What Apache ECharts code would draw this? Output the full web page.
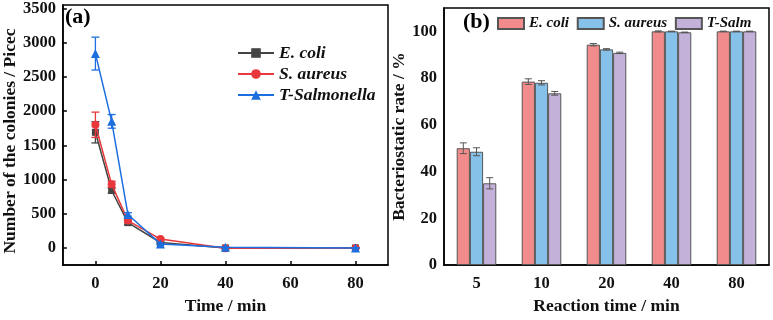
<!DOCTYPE html>
<html><head><meta charset="utf-8">
<script src="https://cdn.jsdelivr.net/npm/echarts@6/dist/echarts.min.js"></script>
<style>html,body{margin:0;padding:0;background:#fff}#c{width:773px;height:320px}</style>
</head><body><div id="c"></div>
<script>
// ---- Panel (a) data ----
const timesA = [0, 5, 10, 20, 40, 80];
const ecoliCount = [1690, 840, 370, 80, 0, 0];
const ecoliCountErr = [155, 40, 30, 15, 5, 3];
const saureusCount = [1800, 930, 400, 130, -5, 0];
const saureusCountErr = [185, 45, 30, 20, 5, 3];
const tsalmCount = [2840, 1850, 490, 60, 10, 0];
const tsalmCountErr = [240, 100, 25, 15, 5, 3];
const yTicksA = [0, 500, 1000, 1500, 2000, 2500, 3000, 3500];
const xTicksA = [0, 20, 40, 60, 80];

// ---- Panel (b) data ----
const categoriesB = ['5', '10', '20', '40', '80'];
const ecoliRate = [50, 78.5, 94.3, 100, 100];
const ecoliRateErr = [2.3, 1.2, 0.5, 0.2, 0.1];
const saureusRate = [48.5, 78, 92.3, 100, 100];
const saureusRateErr = [1.7, 0.9, 0.3, 0.1, 0.1];
const tsalmRate = [35, 73.5, 90.8, 99.6, 100];
const tsalmRateErr = [2.4, 0.8, 0.3, 0.1, 0.1];
const yTicksB = [0, 20, 40, 60, 80, 100];

const FF = 'Liberation Serif, Times New Roman, serif';
const lineColors = ['#444444', '#e8383b', '#1d6fe0'];
const barColors = ['#f28b8b', '#86c1ea', '#c3b1d9'];

function pts(xs, ys) { return xs.map((x, i) => [x, ys[i]]); }
function errPts(xs, ys, es) { return xs.map((x, i) => [x, ys[i], es[i]]); }

function lineErr(color) {
  return function (params, api) {
    const x = api.value(0), y = api.value(1), e = api.value(2);
    const t = api.coord([x, y + e]), b = api.coord([x, y - e]);
    const w = 4;
    const st = { stroke: color, lineWidth: 1.3 };
    return { type: 'group', children: [
      { type: 'line', shape: { x1: t[0], y1: t[1], x2: b[0], y2: b[1] }, style: st },
      { type: 'line', shape: { x1: t[0] - w, y1: t[1], x2: t[0] + w, y2: t[1] }, style: st },
      { type: 'line', shape: { x1: b[0] - w, y1: b[1], x2: b[0] + w, y2: b[1] }, style: st }
    ]};
  };
}
const BARFRAC = 0.203;
function barErr(idx) {
  return function (params, api) {
    const c = api.value(0), y = api.value(1), e = api.value(2);
    const band = api.size([1, 0])[0];
    const off = (idx - 1) * band * BARFRAC;
    const t = api.coord([c, y + e]), b = api.coord([c, y - e]);
    const x = t[0] + off;
    const w = 3.5;
    const st = { stroke: '#555', lineWidth: 1 };
    return { type: 'group', children: [
      { type: 'line', shape: { x1: x, y1: t[1], x2: x, y2: b[1] }, style: st },
      { type: 'line', shape: { x1: x - w, y1: t[1], x2: x + w, y2: t[1] }, style: st },
      { type: 'line', shape: { x1: x - w, y1: b[1], x2: x + w, y2: b[1] }, style: st }
    ]};
  };
}

const plain = v => String(v);
const labelStyle = { fontFamily: FF, fontWeight: 'bold', fontSize: 16.5, color: '#111' };
const nameStyle = { fontFamily: FF, fontWeight: 'bold', fontSize: 17.5, color: '#111' };
const axLine = { show: true, onZero: false, lineStyle: { color: '#000', width: 1.5 } };

const chart = echarts.init(document.getElementById('c'), null, { renderer: 'canvas' });
chart.setOption({
  animation: false,
  backgroundColor: '#fff',
  graphic: [
    { type: 'text', left: 65, top: 6, style: { text: '(a)', font: 'bold 22px ' + FF, fill: '#000' } },
    { type: 'text', left: 463, top: 11, style: { text: '(b)', font: 'bold 22px ' + FF, fill: '#000' } }
  ],
  grid: [
    { left: 60, right: 385, top: 5, bottom: 49, show: true, borderColor: '#000', borderWidth: 1.5 },
    { left: 444, right: 4, top: 8, bottom: 49, show: true, borderColor: '#000', borderWidth: 1.5 }
  ],
  legend: [
    { data: ['E. coli', 'S. aureus', 'T-Salmonella'], orient: 'vertical', left: 237, top: 44, padding: 0,
      itemWidth: 36, itemHeight: 12, itemGap: 3,
      textStyle: { fontFamily: FF, fontWeight: 'bold', fontStyle: 'italic', fontSize: 17.5, lineHeight: 17, color: '#111' } },
    { data: ['E. coli ', 'S. aureus ', 'T-Salm'], orient: 'horizontal', left: 497, top: 16, padding: 0,
      icon: 'rect', itemWidth: 26, itemHeight: 11, itemGap: 4,
      textStyle: { fontFamily: FF, fontWeight: 'bold', fontStyle: 'italic', fontSize: 15, color: '#111' } }
  ],
  xAxis: [
    { type: 'value', gridIndex: 0, min: -10, max: 90,
      axisLine: axLine, splitLine: { show: false },
      axisTick: { inside: true, length: 4, customValues: xTicksA, lineStyle: { color: '#000', width: 1.5 } },
      axisLabel: Object.assign({ customValues: xTicksA, margin: 10, formatter: plain }, labelStyle),
      name: 'Time / min', nameLocation: 'middle', nameGap: 28, nameTextStyle: nameStyle },
    { type: 'category', gridIndex: 1, data: categoriesB,
      axisLine: axLine, splitLine: { show: false },
      axisTick: { inside: true, length: 4, alignWithLabel: true, lineStyle: { color: '#000', width: 1.5 } },
      axisLabel: Object.assign({ margin: 10 }, labelStyle),
      name: 'Reaction time / min', nameLocation: 'middle', nameGap: 28, nameTextStyle: nameStyle }
  ],
  yAxis: [
    { type: 'value', gridIndex: 0, min: -250, max: 3550,
      axisLine: axLine, splitLine: { show: false },
      axisTick: { inside: true, length: 4, customValues: yTicksA, lineStyle: { color: '#000', width: 1.5 } },
      axisLabel: Object.assign({ customValues: yTicksA, margin: 7, formatter: plain }, labelStyle),
      name: 'Number of the colonies / Picec', nameLocation: 'middle', nameGap: 38,
      nameTextStyle: Object.assign({ padding: [0, 0, 0, -12] }, nameStyle) },
    { type: 'value', gridIndex: 1, min: 0, max: 110,
      axisLine: axLine, splitLine: { show: false },
      axisTick: { inside: false, length: 5, customValues: yTicksB, lineStyle: { color: '#000', width: 1.5 } },
      axisLabel: Object.assign({ customValues: yTicksB, margin: 7, formatter: plain }, labelStyle),
      name: 'Bacteriostatic rate / %', nameLocation: 'middle', nameGap: 33, nameTextStyle: nameStyle }
  ],
  series: [
    { name: 'E. coli', type: 'line', xAxisIndex: 0, yAxisIndex: 0, data: pts(timesA, ecoliCount),
      symbol: 'rect', symbolSize: 7, color: lineColors[0], lineStyle: { width: 1.5 }, z: 3 },
    { name: 'S. aureus', type: 'line', xAxisIndex: 0, yAxisIndex: 0, data: pts(timesA, saureusCount),
      symbol: 'circle', symbolSize: 8, color: lineColors[1], lineStyle: { width: 1.5 }, z: 4 },
    { name: 'T-Salmonella', type: 'line', xAxisIndex: 0, yAxisIndex: 0, data: pts(timesA, tsalmCount),
      symbol: 'triangle', symbolSize: 9, color: lineColors[2], lineStyle: { width: 1.5 }, z: 5 },
    { type: 'custom', xAxisIndex: 0, yAxisIndex: 0, data: errPts(timesA, ecoliCount, ecoliCountErr),
      encode: { x: 0, y: 1 }, renderItem: lineErr(lineColors[0]), z: 3 },
    { type: 'custom', xAxisIndex: 0, yAxisIndex: 0, data: errPts(timesA, saureusCount, saureusCountErr),
      encode: { x: 0, y: 1 }, renderItem: lineErr(lineColors[1]), z: 4 },
    { type: 'custom', xAxisIndex: 0, yAxisIndex: 0, data: errPts(timesA, tsalmCount, tsalmCountErr),
      encode: { x: 0, y: 1 }, renderItem: lineErr(lineColors[2]), z: 5 },

    { name: 'E. coli ', type: 'bar', xAxisIndex: 1, yAxisIndex: 1, data: ecoliRate,
      barWidth: (BARFRAC * 100) + '%', barGap: '0%', color: barColors[0],
      itemStyle: { borderColor: '#555', borderWidth: 1 } },
    { name: 'S. aureus ', type: 'bar', xAxisIndex: 1, yAxisIndex: 1, data: saureusRate,
      barWidth: (BARFRAC * 100) + '%', barGap: '0%', color: barColors[1],
      itemStyle: { borderColor: '#555', borderWidth: 1 } },
    { name: 'T-Salm', type: 'bar', xAxisIndex: 1, yAxisIndex: 1, data: tsalmRate,
      barWidth: (BARFRAC * 100) + '%', barGap: '0%', color: barColors[2],
      itemStyle: { borderColor: '#555', borderWidth: 1 } },
    { type: 'custom', xAxisIndex: 1, yAxisIndex: 1, data: ecoliRate.map((v, i) => [i, v, ecoliRateErr[i]]),
      encode: { x: 0, y: 1 }, renderItem: barErr(0), z: 10 },
    { type: 'custom', xAxisIndex: 1, yAxisIndex: 1, data: saureusRate.map((v, i) => [i, v, saureusRateErr[i]]),
      encode: { x: 0, y: 1 }, renderItem: barErr(1), z: 10 },
    { type: 'custom', xAxisIndex: 1, yAxisIndex: 1, data: tsalmRate.map((v, i) => [i, v, tsalmRateErr[i]]),
      encode: { x: 0, y: 1 }, renderItem: barErr(2), z: 10 }
  ]
});
</script></body></html>
